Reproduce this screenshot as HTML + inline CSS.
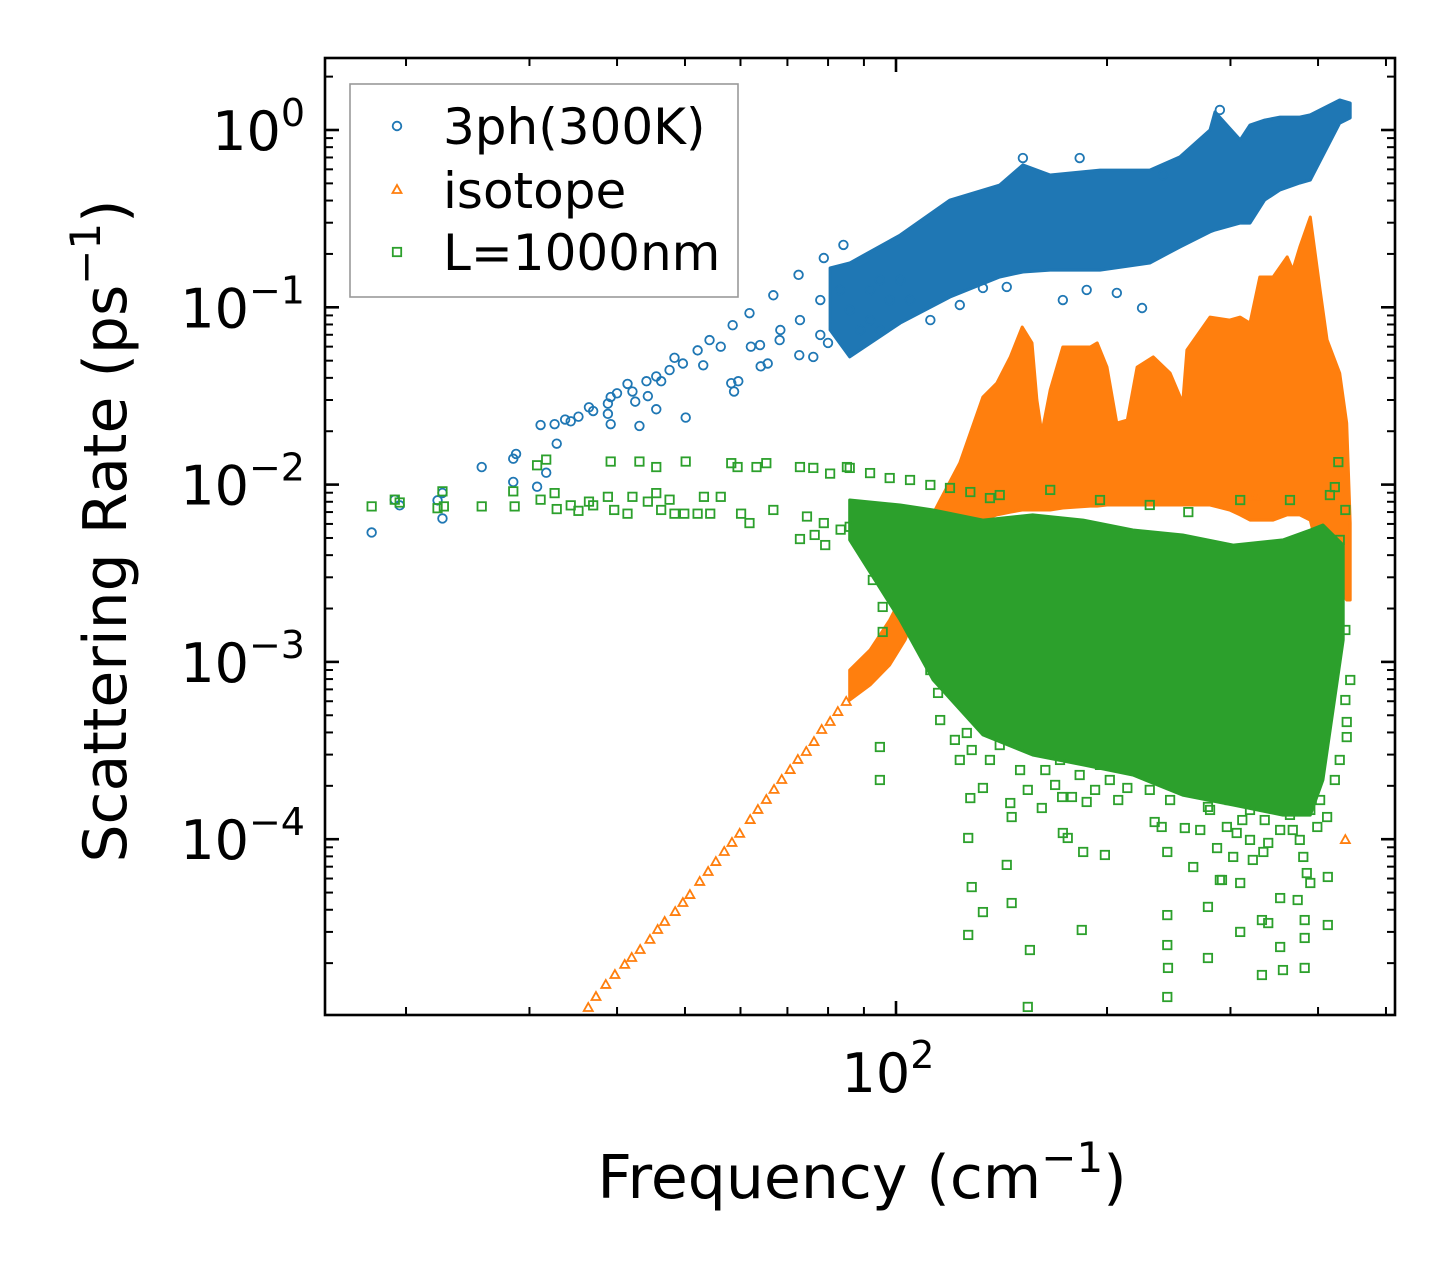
<!DOCTYPE html>
<html><head><meta charset="utf-8"><style>
html,body{margin:0;padding:0;background:#fff;}
svg{display:block;font-family:"DejaVu Sans","Liberation Sans",sans-serif;}
</style></head><body>
<svg id="chart" width="1455" height="1265" viewBox="0 0 1455 1265" xmlns="http://www.w3.org/2000/svg">
<rect x="0" y="0" width="1455" height="1265" fill="#fff"/>
<g id="plot"></g>
<g id="axes"></g>
</svg>
<script>
// ---- data (log10 of frequency in cm^-1, log10 of rate in ps^-1) ----
const xTickMajor=[2];
const yTickMajor=[0,-1,-2,-3,-4];
const yTickLabels=["0","−1","−2","−3","−4"];
const xTickLabels=["2"];

// blue 3ph dense band
const blueBandF=[1.906,1.934,2.006,2.077,2.148,2.181,2.220,2.291,2.362,2.405,2.448,2.455,2.491,2.505,2.526,2.548,2.576,2.591,2.633,2.648];
const blueBandHi=[-0.778,-0.750,-0.592,-0.395,-0.310,-0.197,-0.254,-0.226,-0.226,-0.152,0,0.102,-0.056,0.028,0.056,0.073,0.073,0.085,0.169,0.152];
const blueBandLo=[-1.128,-1.280,-1.089,-0.942,-0.829,-0.801,-0.790,-0.790,-0.750,-0.660,-0.575,-0.564,-0.525,-0.525,-0.395,-0.338,-0.299,-0.282,0.039,0.068];
const blueF=[1.252,1.285,1.292,1.346,1.353,1.353,1.409,1.454,1.458,1.454,1.488,1.501,1.516,1.493,1.513,1.528,1.536,1.547,1.562,1.568,1.589,1.589,1.593,1.593,1.602,1.617,1.624,1.628,1.634,1.644,1.646,1.658,1.658,1.665,1.677,1.684,1.696,1.700,1.717,1.725,1.734,1.750,1.765,1.769,1.775,1.767,1.791,1.793,1.807,1.817,1.825,1.834,1.861,1.862,1.882,1.897,1.903,1.925,
1.835,1.863,1.892,1.920,1.806,1.892,1.934,1.963,1.949,1.977,1.963,1.991,1.977,2.006,2.020,2.238,2.351,2.124,2.158,2.315,2.272,2.181,2.262,2.462,2.381,2.049,2.091];
const blueR=[-2.270,-2.085,-2.117,-2.089,-2.047,-2.191,-1.901,-1.854,-1.827,-1.985,-2.012,-1.933,-1.769,-1.664,-1.659,-1.633,-1.643,-1.617,-1.564,-1.585,-1.543,-1.601,-1.659,-1.506,-1.485,-1.432,-1.475,-1.532,-1.669,-1.417,-1.501,-1.575,-1.390,-1.417,-1.354,-1.285,-1.317,-1.622,-1.243,-1.327,-1.185,-1.222,-1.428,-1.475,-1.417,-1.101,-1.033,-1.222,-1.333,-1.317,-0.932,-1.185,-0.817,-1.270,-1.280,-0.722,-1.201,-0.648,
-1.128,-1.072,-0.959,-0.902,-1.213,-1.156,-1.015,-0.902,-1.128,-0.846,-1.072,-0.959,-1.128,-0.846,-0.959,-0.959,-1.004,-0.891,-0.885,-0.919,-0.902,-0.158,-0.158,0.113,-0.254,-1.072,-0.987];

// orange isotope dense band
const orangeBandF=[1.934,1.963,1.991,2.013,2.034,2.063,2.091,2.124,2.144,2.163,2.180,2.194,2.201,2.208,2.220,2.238,2.277,2.287,2.301,2.315,2.330,2.344,2.367,2.391,2.409,2.415,2.448,2.476,2.491,2.505,2.519,2.538,2.558,2.566,2.576,2.591,2.605,2.615,2.633,2.643,2.648];
const orangeBandHi=[-3.046,-2.933,-2.764,-2.594,-2.312,-2.087,-1.878,-1.506,-1.427,-1.280,-1.111,-1.201,-1.523,-1.709,-1.466,-1.224,-1.224,-1.201,-1.337,-1.653,-1.636,-1.337,-1.280,-1.371,-1.540,-1.241,-1.055,-1.072,-1.055,-1.089,-0.829,-0.829,-0.716,-0.790,-0.660,-0.491,-0.902,-1.184,-1.371,-1.653,-2.217];
const orangeBandLo=[-3.215,-3.130,-3.017,-2.876,-2.651,-2.425,-2.256,-2.200,-2.171,-2.155,-2.143,-2.143,-2.143,-2.143,-2.143,-2.132,-2.121,-2.121,-2.115,-2.115,-2.115,-2.115,-2.115,-2.115,-2.115,-2.115,-2.115,-2.143,-2.171,-2.200,-2.200,-2.200,-2.171,-2.171,-2.171,-2.200,-2.425,-2.538,-2.594,-2.651,-2.651];
const orangeF=[1.561,1.572,1.586,1.599,1.613,1.623,1.635,1.649,1.660,1.670,1.685,1.696,1.706,1.720,1.732,1.743,1.755,1.766,1.777,1.792,1.803,1.815,1.826,1.837,1.849,1.860,1.872,1.883,1.894,1.906,1.917,1.929,2.641,2.512];
const orangeR=[-4.952,-4.890,-4.822,-4.766,-4.709,-4.670,-4.625,-4.568,-4.512,-4.467,-4.411,-4.360,-4.315,-4.241,-4.185,-4.129,-4.072,-4.021,-3.970,-3.892,-3.835,-3.779,-3.722,-3.666,-3.610,-3.553,-3.508,-3.452,-3.384,-3.339,-3.283,-3.226,-4.005,-2.070];

// green L=1000nm dense band
const greenBandF=[1.934,2.006,2.053,2.124,2.195,2.267,2.338,2.409,2.481,2.552,2.591,2.609,2.638];
const greenBandHi=[-2.087,-2.115,-2.143,-2.200,-2.171,-2.200,-2.256,-2.284,-2.341,-2.312,-2.256,-2.228,-2.341];
const greenBandLo=[-2.312,-2.764,-3.102,-3.412,-3.525,-3.581,-3.638,-3.751,-3.807,-3.864,-3.864,-3.666,-2.876];
const greenF=[1.252,1.285,1.292,1.346,1.353,1.355,1.409,1.454,1.456,1.488,1.501,1.493,1.513,1.516,1.536,1.547,1.562,1.568,1.589,1.593,1.598,1.617,1.624,1.634,1.646,1.658,1.658,1.665,1.677,1.684,1.700,1.698,1.717,1.726,1.735,1.750,1.765,1.774,1.779,1.801,1.815,1.791,1.825,1.863,1.882,1.906,1.930,1.873,1.897,1.921,1.863,1.934,
1.934,1.963,1.991,2.020,2.049,2.077,2.106,2.134,1.884,1.899,
1.977,2.060,2.049,2.106,2.124,2.101,2.108,2.103,2.108,2.163,2.165,2.158,2.165,2.191,2.208,2.188,2.237,2.251,2.272,2.238,2.245,2.267,2.298,2.265,2.317,2.330,2.352,2.369,2.379,2.387,2.387,2.387,2.424,2.445,2.458,2.465,2.481,2.491,2.509,2.524,2.531,2.522,2.531,2.548,2.581,2.573,2.586,2.591,2.583,2.616,2.643,2.643,2.641,2.631,2.626,2.417,2.412,2.445,2.472,2.494,2.486,2.462,2.566,2.601,2.615,
2.188,2.387,2.388,2.445,2.548,2.583,2.583,2.616,2.552,2.522,2.491,2.103,2.124,1.977,
2.063,2.084,2.134,2.148,2.177,2.213,2.234,2.262,2.291,2.305,2.334,2.362,2.391,2.419,2.448,2.476,2.505,2.526,2.562,2.591,2.605,2.626,2.633,2.641,2.648,2.163,2.091,2.320,2.377,2.548,2.576,2.505,2.434,2.227,2.284,
2.148,2.220,2.291,2.362,2.491,2.562,2.619,2.641,2.633,1.981,1.981,1.967];
const greenR=[-2.123,-2.085,-2.101,-2.133,-2.038,-2.123,-2.123,-2.038,-2.123,-1.891,-1.859,-2.085,-2.048,-2.138,-2.117,-2.148,-2.096,-2.117,-2.069,-1.870,-2.143,-2.164,-2.069,-1.870,-2.096,-2.048,-1.901,-2.143,-2.085,-2.164,-1.870,-2.164,-2.164,-2.069,-2.164,-2.069,-1.879,-1.901,-2.164,-1.901,-1.879,-2.217,-2.143,-1.901,-1.906,-1.938,-1.901,-2.180,-2.217,-2.254,-2.307,-2.238,
-1.906,-1.935,-1.963,-1.974,-2.002,-2.019,-2.042,-2.076,-2.284,-2.341,
-3.480,-3.175,-3.046,-3.768,-3.711,-3.401,-3.497,-3.993,-4.270,-3.796,-3.875,-4.145,-4.360,-4.625,-3.824,-3.722,-3.762,-3.762,-3.790,-3.965,-3.993,-4.072,-4.089,-4.512,-3.779,-3.711,-3.627,-3.903,-3.931,-4.072,-4.428,-4.597,-4.157,-4.382,-4.050,-4.230,-4.100,-4.247,-4.117,-4.072,-4.021,-4.456,-4.473,-4.332,-4.100,-4.343,-4.191,-4.247,-4.456,-4.213,-3.339,-3.424,-2.820,-1.873,-2.014,-2.155,-3.937,-3.818,-3.931,-3.892,-3.965,-4.230,-3.948,-3.931,-3.875,
-4.946,-4.890,-4.726,-4.670,-4.608,-4.726,-4.557,-4.484,-4.738,-4.766,-4.523,-4.540,-4.411,-3.666,
-3.328,-3.440,-3.553,-3.469,-3.610,-3.610,-3.553,-3.638,-3.581,-3.666,-3.553,-3.722,-3.779,-3.722,-3.835,-3.779,-3.835,-3.892,-3.863,-3.835,-3.779,-3.666,-3.553,-3.215,-3.102,-3.412,-3.553,-3.440,-3.610,-3.948,-4.004,-4.004,-3.948,-3.694,-3.722,
-2.059,-2.030,-2.087,-2.115,-2.087,-2.087,-2.059,-2.143,-2.312,-2.690,-2.831,-2.538];

const BLUE="#1f77b4", ORANGE="#ff7f0e", GREEN="#2ca02c";
const NS="http://www.w3.org/2000/svg";
const L=325,R=1395,T=58,B=1015;
const xLo=2+(L-896)/701, xHi=2+(R-896)/701;
const yHi=(130-T)/177.3, yLo=(130-B)/177.3;
function X(lf){return L+(lf-xLo)/(xHi-xLo)*(R-L);}
function Y(lr){return T+(yHi-lr)/(yHi-yLo)*(B-T);}
const plot=document.getElementById('plot');
const axes=document.getElementById('axes');
function mk(tag,attrs,parent){const e=document.createElementNS(NS,tag);for(const k in attrs)e.setAttribute(k,attrs[k]);parent.appendChild(e);return e;}

const defs=mk('defs',{},plot);
const cp=mk('clipPath',{id:'clip'},defs);
mk('rect',{x:L,y:T,width:R-L,height:B-T},cp);
plot.setAttribute('clip-path','url(#clip)');

function band(F,Hi,Lo,color,name){
  let pts=[];
  for(let i=0;i<F.length;i++)pts.push(X(F[i]).toFixed(1)+','+Y(Hi[i]).toFixed(1));
  for(let i=F.length-1;i>=0;i--)pts.push(X(F[i]).toFixed(1)+','+Y(Lo[i]).toFixed(1));
  const p=mk('polygon',{points:pts.join(' '),fill:color,stroke:color,'stroke-width':3,'stroke-linejoin':'round'},plot);
  
  
}
function circle(cx,cy,color){
  const c=mk('circle',{cx:cx,cy:cy,r:4.3,fill:'none',stroke:color,'stroke-width':1.8},plot);
  
  
}
function tri(cx,cy,color,parent,name){
  const s=5;
  const p=mk('polygon',{points:`${cx},${cy-s} ${cx-s*0.9},${cy+s*0.6} ${cx+s*0.9},${cy+s*0.6}`,fill:'none',stroke:color,'stroke-width':1.8},parent);
  
  
}
function sq(cx,cy,color,parent,name){
  const p=mk('rect',{x:cx-4.2,y:cy-4.2,width:8.4,height:8.4,fill:'none',stroke:color,'stroke-width':1.8},parent);
  
  
}

band(blueBandF,blueBandHi,blueBandLo,BLUE,'band-3ph');
for(let i=0;i<blueF.length;i++)circle(X(blueF[i]),Y(blueR[i]),BLUE);
band(orangeBandF,orangeBandHi,orangeBandLo,ORANGE,'band-isotope');
for(let i=0;i<orangeF.length;i++)tri(X(orangeF[i]),Y(orangeR[i]),ORANGE,plot,'point-isotope');
band(greenBandF,greenBandHi,greenBandLo,GREEN,'band-l1000nm');
for(let i=0;i<greenF.length;i++)sq(X(greenF[i]),Y(greenR[i]),GREEN,plot,'point-l1000nm');

const fr=mk('rect',{x:L,y:T,width:R-L,height:B-T,fill:'none',stroke:'#000','stroke-width':2.6},axes);



for(let d=1;d<=2;d++){for(let k=1;k<10;k++){
  const lf=d+Math.log10(k); if(lf<xLo||lf>xHi)continue;
  const x=X(lf), len=(k===1)?14:8;
  const t1=mk('line',{x1:x,y1:B,x2:x,y2:B-len,stroke:'#000','stroke-width':(k===1)?2.6:2},axes);
  
  
  const t2=mk('line',{x1:x,y1:T,x2:x,y2:T+len,stroke:'#000','stroke-width':(k===1)?2.6:2},axes);
  
  
}}
xTickMajor.forEach((v,i)=>{
  const t=mk('text',{x:X(v)-8,y:1092,'font-size':54,'text-anchor':'middle'},axes);
  
  
  t.textContent='10';
  const s=mk('tspan',{dy:-24,'font-size':38},t); s.textContent=xTickLabels[i];
});
for(let d=-5;d<=0;d++){for(let k=1;k<10;k++){
  const lr=d+Math.log10(k); if(lr<yLo||lr>yHi)continue;
  const y=Y(lr), len=(k===1)?14:8;
  const t1=mk('line',{x1:L,y1:y,x2:L+len,y2:y,stroke:'#000','stroke-width':(k===1)?2.6:2},axes);
  
  
  const t2=mk('line',{x1:R,y1:y,x2:R-len,y2:y,stroke:'#000','stroke-width':(k===1)?2.6:2},axes);
  
  
}}
yTickMajor.forEach((v,i)=>{
  const t=mk('text',{x:305,y:Y(v)+20,'font-size':54,'text-anchor':'end'},axes);
  
  
  t.textContent='10';
  const s=mk('tspan',{dy:-24,'font-size':38},t); s.textContent=yTickLabels[i];
});
const xt=mk('text',{x:862,y:1198,'font-size':60,'text-anchor':'middle'},axes);


xt.textContent='Frequency (cm';
const xs=mk('tspan',{dy:-26,'font-size':42},xt); xs.textContent='−1';
const xs2=mk('tspan',{dy:26,'font-size':60},xt); xs2.textContent=')';
const yt=mk('text',{x:0,y:0,'font-size':60,'text-anchor':'middle',transform:'translate(126,531) rotate(-90)'},axes);


yt.textContent='Scattering Rate (ps';
const ys=mk('tspan',{dy:-26,'font-size':42},yt); ys.textContent='−1';
const ys2=mk('tspan',{dy:26,'font-size':60},yt); ys2.textContent=')';

const lg=mk('g',{},axes);


mk('rect',{x:350,y:84,width:388,height:213,fill:'#fff','fill-opacity':0.8,stroke:'#999','stroke-width':1.6},lg);
const legNames=['3ph(300K)','isotope','L=1000nm'];
const legY=[126,190,252];
const lc=mk('circle',{cx:397,cy:legY[0],r:4.3,fill:'none',stroke:BLUE,'stroke-width':1.8},lg);


tri(397,legY[1],ORANGE,lg,'legend-marker-isotope');
sq(397,legY[2],GREEN,lg,'legend-marker-l1000nm');
legNames.forEach((n,i)=>{
  const t=mk('text',{x:443,y:legY[i]+18,'font-size':50},lg);
  
  
  t.textContent=n;
});
</script>
</body></html>
